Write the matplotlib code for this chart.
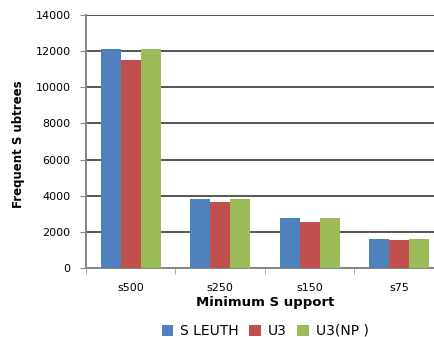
import numpy as np
import matplotlib
matplotlib.use("Agg")
import matplotlib.pyplot as plt
from matplotlib.ticker import FixedLocator

# === DATA ===
categories = ["s500", "s250", "s150", "s75"]
series_names = ["S LEUTH", "U3", "U3(NP )"]
sleuth = [12100, 3820, 2770, 1600]
u3 = [11500, 3650, 2550, 1570]
u3_np = [12100, 3800, 2770, 1600]
colors = ["#4F81BD", "#C0504D", "#9BBB59"]

plt.rcParams['font.family'] = ['DejaVu Sans']

fig = plt.figure(figsize=(4.35, 3.37), dpi=100)
ax = fig.add_axes([86 / 435, 69 / 337, 358 / 435, 253 / 337])

x = np.arange(len(categories))
w = 0.225
for i, (vals, name) in enumerate(zip([sleuth, u3, u3_np], series_names)):
    ax.bar(x + (i - 1) * w, vals, w, color=colors[i], label=name, zorder=3)

ax.set_xlim(-0.5, len(categories) - 0.5)
ax.set_ylim(0, 14000)
ax.set_yticks(np.arange(0, 14001, 2000))
ax.yaxis.grid(True, color="#555555", linewidth=1.4, zorder=0)

ax.set_xticks(x)
ax.set_xticklabels(categories, fontsize=8)
ax.xaxis.set_minor_locator(FixedLocator(np.arange(-0.5, len(categories), 1.0)))
ax.tick_params(axis="x", which="major", length=0, pad=11)
ax.tick_params(axis="x", which="minor", length=4, color="#a0a0a0")
ax.tick_params(axis="y", labelsize=8, length=4, color="#868686", pad=7)

for side in ["top", "right"]:
    ax.spines[side].set_visible(False)
for side in ["left", "bottom"]:
    ax.spines[side].set_color("#868686")
    ax.spines[side].set_linewidth(1.4)

ax.set_xlabel("Minimum S upport", fontsize=9.5, fontweight="bold", labelpad=2)
ax.set_ylabel("Frequent S ubtrees", fontsize=8.5, fontweight="bold")
ax.yaxis.set_label_coords(-0.169, 0.49)

fig.legend(loc="center", bbox_to_anchor=(265 / 435, 1 - 331 / 337), ncol=3,
           frameon=False, fontsize=10, handlelength=0.85, handleheight=0.85,
           handletextpad=0.45, columnspacing=0.8)

fig.savefig("out.png", dpi=100)
